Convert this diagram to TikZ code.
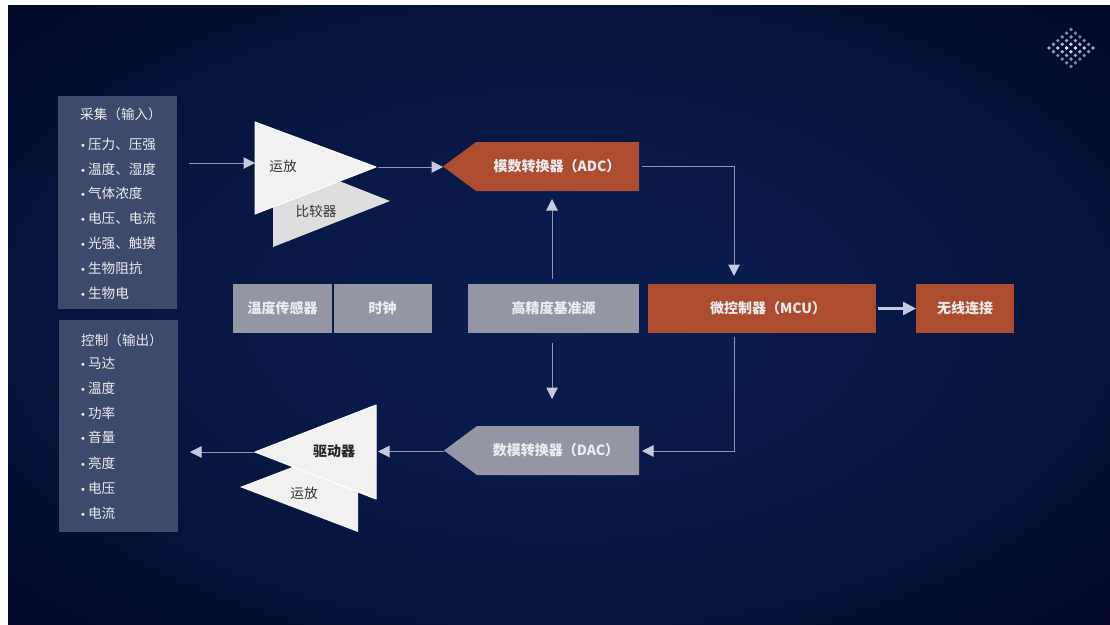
\documentclass[tikz,border=0pt]{standalone}
\usepackage{fontspec}
\setmainfont{Noto Sans CJK SC}
\newfontfamily\bulletfont{Liberation Sans}
\usetikzlibrary{arrows.meta}
\definecolor{boxblue}{HTML}{3D4A6B}
\definecolor{boxgrey}{HTML}{9497A3}
\definecolor{boxred}{HTML}{AB4D2E}
\definecolor{wireline}{HTML}{8E96B4}
\definecolor{wirehead}{HTML}{C6CADD}
\definecolor{tri}{HTML}{F1F1F1}
\definecolor{trib}{HTML}{DEDEDE}
\definecolor{labelc}{HTML}{ECECF0}
\definecolor{bgc1}{HTML}{0A1D4F}
\definecolor{bgc2}{HTML}{091A49}
\definecolor{bgc3}{HTML}{06123A}
\definecolor{bgc4}{HTML}{020629}
\pgfdeclareradialshading{bgshade}{\pgfpoint{0bp}{0bp}}{
  color(0bp)=(bgc1);color(12bp)=(bgc2);color(25bp)=(bgc3);color(37bp)=(bgc4);color(50bp)=(bgc4)}
\newcommand{\fsz}[1]{\fontsize{#1}{#1}\selectfont}
\newcommand{\bu}{{\bulletfont\fsz{11}•}\hspace{3pt}}
\tikzset{
  block/.style={rectangle,inner sep=0pt,outer sep=0pt,font=\fsz{14}\bfseries,text=labelc},
  greyblock/.style={block,fill=boxgrey},
  redblock/.style={block,fill=boxred},
  tag/.style={inner sep=0pt,outer sep=0pt,font=\fsz{14}\bfseries,text=labelc},
  panel/.style={rectangle,inner sep=0pt,outer sep=0pt,fill=boxblue},
  item/.style={inner sep=0pt,anchor=west,font=\fsz{13.6},text=labelc},
  tritext/.style={inner sep=0pt,font=\fsz{13.6},text=black!80},
  wire/.style={draw=wireline,line width=1pt,-{Triangle[length=11.5pt,width=11.5pt,color=wirehead]}},
  thickwire/.style={draw=wirehead,line width=2.4pt,-{Triangle[length=13pt,width=13pt,color=wirehead]}},
  triangle/.style={fill=tri,draw=white,line width=1pt,line join=round},
  backtri/.style={fill=trib},
  backtrib/.style={fill=tri}
}
\begin{document}
\begin{tikzpicture}[x=1pt,y=-1pt]
\useasboundingbox (0,0) rectangle (1110,624);
\fill[white] (0,0) rectangle (1110,624);
\shade[shading=bgshade] (8,5) rectangle (1110,624);

% logo
\foreach \i in {-2.5,-1.5,...,2.5}{\foreach \j in {-2.5,-1.5,...,2.5}{
  \pgfmathsetmacro{\op}{max(0.5,1-0.45*abs(\i+\j)/3-0.35*abs(\i-\j)/5)}
  \fill[white,opacity=\op] ({1071+(\i-\j)*4.4},{48+(\i+\j)*3.7}) circle (1.9);
}}

% panels
\node[panel,minimum width=119pt,minimum height=213pt] (inpanel) at (117.5,202.5) {};
\node[panel,minimum width=119pt,minimum height=212pt] (outpanel) at (118.5,426) {};
\node[item] (intitle) at (80,114) {采集（输入）};
\node[item] (i1) at (81,144) {\bu 压力、压强};
\node[item] (i2) at (81,169) {\bu 温度、湿度};
\node[item] (i3) at (81,193) {\bu 气体浓度};
\node[item] (i4) at (81,218) {\bu 电压、电流};
\node[item] (i5) at (81,243) {\bu 光强、触摸};
\node[item] (i6) at (81,268) {\bu 生物阻抗};
\node[item] (i7) at (81,293) {\bu 生物电};
\node[item] (outtitle) at (81,340) {控制（输出）};
\node[item] (o1) at (81,363) {\bu 马达};
\node[item] (o2) at (81,388) {\bu 温度};
\node[item] (o3) at (81,413) {\bu 功率};
\node[item] (o4) at (81,437) {\bu 音量};
\node[item] (o5) at (81,463) {\bu 亮度};
\node[item] (o6) at (81,488) {\bu 电压};
\node[item] (o7) at (81,513) {\bu 电流};

% triangles
\fill[backtri] (273,155) -- (390,201) -- (273,247) -- cycle;
\draw[triangle] (255,122) -- (376,167) -- (255,214) -- cycle;
\fill[backtrib] (240,487) -- (358,442) -- (358,532) -- cycle;
\draw[triangle] (255,452) -- (376,405) -- (376,499) -- cycle;
\coordinate (ampIn) at (255,163);
\coordinate (ampOut) at (378,167);
\coordinate (drvOut) at (255,452);
\coordinate (drvIn) at (378,451.5);
\coordinate (sigIn) at (189,163);
\coordinate (sigOut) at (190,452);
\node[tritext] (lamp) at (283,166) {运放};
\node[tritext] (lcmp) at (316,211) {比较器};
\node[tritext,font=\fsz{14}\bfseries,text=black!85] (ldrv) at (334,451) {驱动器};
\node[tritext] (lamp2) at (304,493) {运放};

% blocks
\node[greyblock,minimum width=99pt,minimum height=49pt] (temp) at (282.5,308.5) {温度传感器};
\node[greyblock,minimum width=98pt,minimum height=49pt] (clock) at (382.5,308.5) {时钟};
\node[greyblock,minimum width=171pt,minimum height=49pt] (ref) at (553.5,308.5) {高精度基准源};
\node[redblock,minimum width=228pt,minimum height=49pt] (mcu) at (762,308.5) {\hspace{12pt}微控制器（MCU）};
\node[redblock,minimum width=98pt,minimum height=49pt] (wl) at (965,308.5) {无线连接};

% ADC and DAC pentagons
\fill[boxred] (443,166.5) -- (476,142) -- (639,142) -- (639,191) -- (476,191) -- cycle;
\fill[boxgrey] (444,450.5) -- (477,426) -- (639,426) -- (639,475) -- (477,475) -- cycle;
\node[tag] (adc) at (557,166.5) {模数转换器（ADC）};
\node[tag] (dac) at (556,450.5) {数模转换器（DAC）};
\coordinate (adcE) at (642,166.5);
\coordinate (adcW) at (443,167);
\coordinate (adcS) at (552,199);
\coordinate (dacN) at (552,399);
\coordinate (dacE) at (642,451);
\coordinate (dacW) at (444,451.5);
\coordinate (mcuN) at (734,276);
\coordinate (mcuS) at (734,337);
\coordinate (refN) at (552,279);
\coordinate (refS) at (552,343);

% connectors
\draw[wire] (sigIn) -- (ampIn);
\draw[wire] (ampOut) -- (adcW);
\draw[wire] (adcE) -| (mcuN);
\draw[wire] (refN) -- (adcS);
\draw[wire] (refS) -- (dacN);
\draw[wire] (mcuS) |- (dacE);
\draw[wire] (dacW) -- (drvIn);
\draw[wire] (drvOut) -- (sigOut);
\draw[thickwire] ([xshift=2pt]mcu.east) -- (wl.west);
\end{tikzpicture}
\end{document}
